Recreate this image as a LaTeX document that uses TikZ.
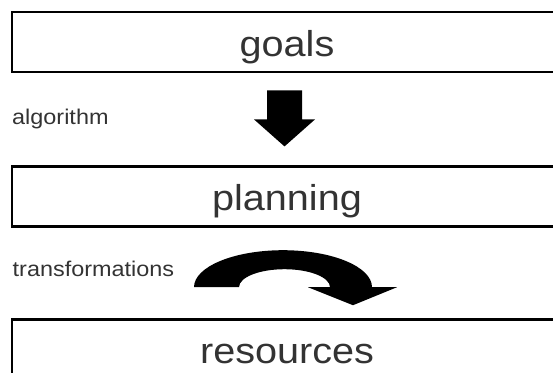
\documentclass[tikz,border=0pt]{standalone}
\usepackage{fontspec}
\setmainfont[FakeStretch=1.1]{Liberation Sans}
\usetikzlibrary{positioning,calc}
\definecolor{textgray}{HTML}{333333}

\begin{document}
\begin{tikzpicture}[
    x=1pt, y=1pt,
    level/.style={rectangle, draw=black, line width=2.8pt, inner sep=0pt, minimum width=550pt, minimum height=60pt,
      text height=34pt, text depth=6pt, font=\fontsize{36}{40}\selectfont, text=textgray},
    note/.style={anchor=base west, inner sep=0pt, font=\fontsize{21.3}{24}\selectfont, text=textgray},
    blockarrow/.style={fill=black, draw=none}
  ]
    \useasboundingbox (0,0) rectangle (553,-372);

    %--- Three levels, stacked ---
    \node[level] (goals) at (287,-42) {goals};
    \node[level, below=92pt of goals] (planning) {planning};
    \node[level, below=90pt of planning] (resources) {resources};

    %--- Side notes
    \node[note] (algorithm) at (12,-124) {algorithm};
    \node[note] (transformations) at (12.5,-276) {transformations};

    %--- Straight block arrow: goals -> planning
    \coordinate (algmid) at ($(goals.south)!0.5!(planning.north)+(-2.5,0)$);
    \fill[blockarrow, shift={(algmid)}]
      (-17.5,29) -- (17.5,29) -- (17.5,0) -- (30.5,0) -- (0,-27) -- (-30.5,0) -- (-17.5,0) -- cycle;

    %--- Curved block arrow: planning -> resources
    \coordinate (transmid) at ($(planning.south)!0.5!(resources.north)+(-4,-14)$);
    \fill[blockarrow, shift={(transmid)}]
      (-89,0) arc[start angle=180, end angle=0, x radius=89, y radius=37]
      -- (114,0) -- (70,-18) -- (25,0) -- (47,0)
      arc[start angle=0, end angle=180, x radius=45.5, y radius=18] -- cycle;
\end{tikzpicture}
\end{document}
